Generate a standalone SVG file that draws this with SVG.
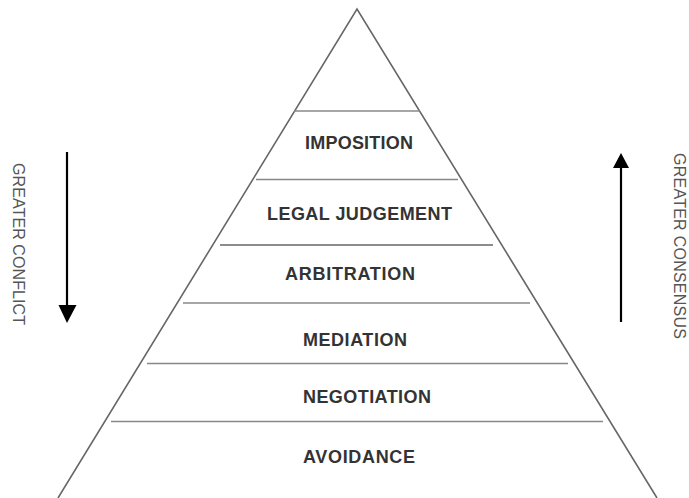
<svg xmlns="http://www.w3.org/2000/svg" width="689" height="498" viewBox="0 0 689 498">
<style>
.lbl{font-family:"Liberation Sans",Arial,sans-serif;font-weight:bold;font-size:18px;fill:#333}
.side{font-family:"Liberation Sans",Arial,sans-serif;font-size:16px;fill:#555}
.tier{stroke:#888;stroke-width:1.5;fill:none}
.edge{stroke:#666;stroke-width:1.6;fill:none}
.arr{stroke:#000;stroke-width:2.2;fill:none}
</style>
<defs>
<marker id="ah" viewBox="0 0 10 10" refX="10" refY="5" markerWidth="9" markerHeight="9" markerUnits="userSpaceOnUse" orient="auto">
<path d="M0,0 L10,5 L0,10 Z" fill="#000"/>
</marker>
</defs>
<rect width="689" height="498" fill="#fff"/>
<g id="pyramid">
<path class="edge" d="M58,498 L357,9 L657,498"/>
</g>
<g id="connectors">
<line class="tier" x1="294" y1="111" x2="420" y2="111"/>
<line class="tier" x1="256" y1="179.5" x2="458" y2="179.5"/>
<line class="tier" x1="220" y1="245" x2="493" y2="245" style="stroke:#666"/>
<line class="tier" x1="183" y1="303" x2="530" y2="303"/>
<line class="tier" x1="147" y1="363.5" x2="568" y2="363.5"/>
<line class="tier" x1="111" y1="421.5" x2="603" y2="421.5"/>
<line class="arr" x1="67" y1="152" x2="67" y2="306"/>
<path d="M58.5,305 L76.5,305 L67,323 Z" fill="#000"/>
<line class="arr" x1="621" y1="322" x2="621" y2="167"/>
<path d="M613,168 L629,168 L621,153 Z" fill="#000"/>
</g>
<g id="imposition"><text class="lbl" x="305" y="149" textLength="108">IMPOSITION</text></g>
<g id="legal-judgement"><text class="lbl" x="267" y="220" textLength="185">LEGAL JUDGEMENT</text></g>
<g id="arbitration"><text class="lbl" x="285" y="280" textLength="130">ARBITRATION</text></g>
<g id="mediation"><text class="lbl" x="303" y="346" textLength="104">MEDIATION</text></g>
<g id="negotiation"><text class="lbl" x="303" y="403" textLength="128">NEGOTIATION</text></g>
<g id="avoidance"><text class="lbl" x="303" y="463" textLength="112">AVOIDANCE</text></g>
<g id="greater-conflict"><text class="side" transform="translate(13,163) rotate(90)" textLength="162">GREATER CONFLICT</text></g>
<g id="greater-consensus"><text class="side" transform="translate(674,153) rotate(90)" textLength="186">GREATER CONSENSUS</text></g>
</svg>
